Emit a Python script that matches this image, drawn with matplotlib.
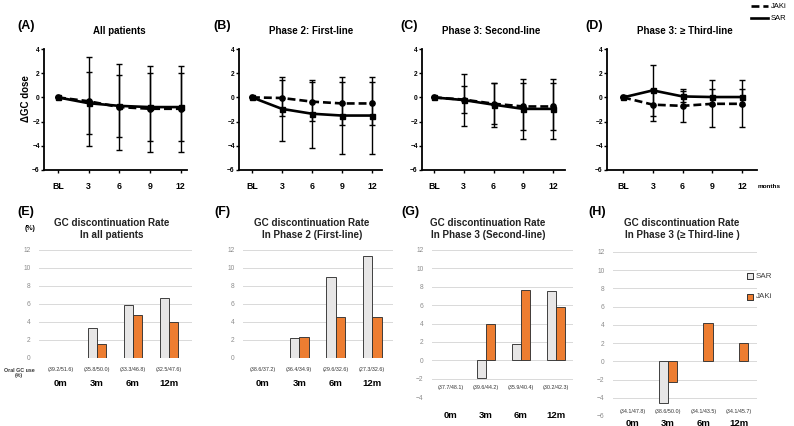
import numpy as np
import matplotlib
matplotlib.use("Agg")
import matplotlib.pyplot as plt
import matplotlib.transforms as mtransforms

plt.rcParams['font.family'] = ['Liberation Sans', 'DejaVu Sans']

W, H = 794, 426

# ---------------- data: top row (mean change in GC dose, +/- SD) ----------------
months = ["BL", "3", "6", "9", "12"]

A_sar_mean = [0, -0.48, -0.70, -0.80, -0.80]
A_sar_sd = [0, 2.55, 2.55, 2.80, 2.80]
A_jak_mean = [0, -0.32, -0.80, -0.94, -0.94]
A_jak_sd = [0, 3.70, 3.56, 3.56, 3.56]

B_sar_mean = [0, -0.95, -1.35, -1.50, -1.50]
B_sar_sd = [0, 2.65, 2.80, 3.15, 3.15]
B_jak_mean = [0, -0.05, -0.35, -0.50, -0.50]
B_jak_sd = [0, 1.50, 1.60, 1.80, 1.80]

C_sar_mean = [0, -0.22, -0.60, -0.95, -0.95]
C_sar_sd = [0, 2.15, 1.83, 2.48, 2.48]
C_jak_mean = [0, -0.18, -0.52, -0.75, -0.75]
C_jak_sd = [0, 1.15, 1.68, 1.96, 1.96]

D_sar_mean = [0, 0.58, 0.08, 0.03, 0.03]
D_sar_sd = [0, 2.10, 0.45, 0.65, 0.65]
D_jak_mean = [0, -0.60, -0.70, -0.53, -0.53]
D_jak_sd = [0, 1.32, 1.37, 1.95, 1.95]

top_titles = ["All patients", "Phase 2: First-line", "Phase 3: Second-line", "Phase 3: \u2265 Third-line"]
top_letters = ["(A)", "(B)", "(C)", "(D)"]

# ---------------- data: bottom row (GC discontinuation rate, %) ----------------
periods = ["0m", "3m", "6m", "12m"]

E_sar = [0, 3.35, 5.9, 6.7]
E_jak = [0, 1.6, 4.8, 4.0]
F_sar = [0, 2.2, 9.0, 11.3]
F_jak = [0, 2.3, 4.6, 4.6]
G_sar = [0, -1.9, 1.8, 7.5]
G_jak = [0, 3.9, 7.7, 5.75]
H_sar = [0, -4.6, 0, 0]
H_jak = [0, -2.3, 4.25, 2.0]

E_oral = ["(39.2/51.6)", "(35.8/50.0)", "(33.3/46.8)", "(32.5/47.6)"]
F_oral = ["(38.6/37.2)", "(36.4/34.9)", "(29.6/32.6)", "(27.3/32.6)"]
G_oral = ["(37.7/48.1)", "(39.6/44.2)", "(35.9/40.4)", "(30.2/42.3)"]
H_oral = ["(34.1/47.8)", "(38.6/50.0)", "(34.1/43.5)", "(34.1/45.7)"]

bottom_titles = ["GC discontinuation Rate\nIn all patients",
                 "GC discontinuation Rate\nIn Phase 2 (First-line)",
                 "GC discontinuation Rate\nIn Phase 3 (Second-line)",
                 "GC discontinuation Rate\nIn Phase 3 (\u2265 Third-line )"]
bottom_letters = ["(E)", "(F)", "(G)", "(H)"]

SAR_COLOR = "#E7E6E6"
JAK_COLOR = "#ED7D31"


def fx(px):
    return px / W


def fy(py):
    return 1 - py / H


def axbox(l, r, t, b):
    return [l / W, 1 - b / H, (r - l) / W, (b - t) / H]


fig = plt.figure(figsize=(W / 100, H / 100), dpi=100)

# ---------------- top row ----------------
top_boxes = [(44, 187), (239, 382), (422, 565), (607, 757)]
top_xlims = [(-0.455, 4.2), (-0.433, 4.33), (-0.40, 4.40), (-0.54, 4.5)]
top_title_x = [119, 311, 491, 685]
top_letter_x = [26, 222, 409, 594]
top_data = [(A_sar_mean, A_sar_sd, A_jak_mean, A_jak_sd),
            (B_sar_mean, B_sar_sd, B_jak_mean, B_jak_sd),
            (C_sar_mean, C_sar_sd, C_jak_mean, C_jak_sd),
            (D_sar_mean, D_sar_sd, D_jak_mean, D_jak_sd)]

for i, ((l, r), xl, data) in enumerate(zip(top_boxes, top_xlims, top_data)):
    ax = fig.add_axes(axbox(l, r, 49, 170))
    sm, ss, jm, js = data
    x = np.arange(len(months))
    ax.errorbar(x, jm, yerr=js, color="black", lw=1.9, ls=(0, (3.0, 1.5)),
                marker="o", ms=3.8, elinewidth=1.0, capsize=2.1, capthick=1.0, zorder=3)
    ax.errorbar(x, sm, yerr=ss, color="black", lw=1.9, ls="-",
                marker="s", ms=3.6, elinewidth=1.0, capsize=2.1, capthick=1.0, zorder=4)
    ax.set_xlim(*xl)
    ax.set_ylim(-6, 4)
    ax.set_yticks([-6, -4, -2, 0, 2, 4])
    ax.set_xticks(x)
    ax.set_xticklabels(months, fontsize=6.3, fontweight="bold")
    for t in ax.get_yticklabels():
        t.set_fontsize(4.8)
        t.set_fontweight("bold")
    ax.tick_params(axis="y", length=2.2, width=1.0, pad=0.8)
    ax.tick_params(axis="x", length=2.5, width=1.0, pad=6)
    for s in ["top", "right"]:
        ax.spines[s].set_visible(False)
    for s in ["left", "bottom"]:
        ax.spines[s].set_linewidth(1.3)
    ax.patch.set_alpha(0)
    fig.text(fx(top_title_x[i]), fy(31), top_titles[i], ha="center", va="center",
             fontsize=7, fontweight="bold")
    fig.text(fx(top_letter_x[i]), fy(26), top_letters[i], ha="center", va="center",
             fontsize=9, fontweight="bold")

fig.text(fx(26), fy(99), "\u0394GC dose", rotation=90, ha="center", va="center",
         fontsize=7, fontweight="bold")
fig.text(fx(758), fy(187), "months", ha="left", va="center", fontsize=4.6, fontweight="bold")

# top legend
lax = fig.add_axes(axbox(745, 794, 0, 28))
lax.set_xlim(0, 49)
lax.set_ylim(28, 0)
lax.axis("off")
lax.plot([6, 23], [6, 6], color="black", lw=1.9, ls=(0, (3.0, 1.5)))
lax.plot([6, 23], [18, 18], color="black", lw=1.9)
lax.text(26, 6, "JAKi", fontsize=5.5, va="center", ha="left")
lax.text(26, 18, "SAR", fontsize=5.5, va="center", ha="left")

# ---------------- bottom row ----------------
bot_boxes = [(39, 192, 250, 358), (243, 393, 250, 358), (432, 573, 250, 397), (613, 757, 252, 416)]
bot_xlims = [(-0.61, 3.64), (-0.54, 3.57), (-0.54, 3.49), (-0.55, 3.51)]
bot_ylims = [(0, 12), (0, 12), (-4, 12), (-6, 12)]
bot_data = [(E_sar, E_jak, E_oral), (F_sar, F_jak, F_oral),
            (G_sar, G_jak, G_oral), (H_sar, H_jak, H_oral)]
oral_y = [369, 369, 387, 411]
label_y = [384, 384, 416, 423]
bot_title_x = [112, 312, 488, 682]
bot_letter_x = [26, 222, 410, 597]
bw = 0.26

for i, (box, xl, yl, data) in enumerate(zip(bot_boxes, bot_xlims, bot_ylims, bot_data)):
    ax = fig.add_axes(axbox(*box))
    sar, jak, oral = data
    x = np.arange(len(periods))
    for xi, v in zip(x, sar):
        if v != 0:
            ax.bar(xi - bw / 2, v, width=bw, color=SAR_COLOR, edgecolor="#333333", lw=0.65, zorder=3)
    for xi, v in zip(x, jak):
        if v != 0:
            ax.bar(xi + bw / 2, v, width=bw, color=JAK_COLOR, edgecolor="#333333", lw=0.65, zorder=3)
    ax.set_xlim(*xl)
    ax.set_ylim(*yl)
    ax.set_yticks(np.arange(yl[0], yl[1] + 1, 2))
    ax.set_xticks([])
    for t in ax.get_yticklabels():
        t.set_fontsize(4.8)
        t.set_color("#8c8c8c")
    ax.tick_params(axis="y", length=0, pad=6)
    ax.grid(axis="y", color="#d9d9d9", lw=0.7, zorder=0)
    for s in ax.spines.values():
        s.set_visible(False)
    ax.patch.set_alpha(0)
    trans = mtransforms.blended_transform_factory(ax.transData, fig.transFigure)
    for xi, s in zip(x, oral):
        ax.text(xi, fy(oral_y[i]), s, transform=trans, ha="center", va="center",
                fontsize=3.9, color="#333333", clip_on=False)
    for xi, s in zip(x, periods):
        ax.text(xi, fy(label_y[i]), s, transform=trans, ha="center", va="center",
                fontsize=6.8, fontweight="bold", clip_on=False)
    fig.text(fx(bot_title_x[i]), fy(229), bottom_titles[i], ha="center", va="center",
             fontsize=7.1, fontweight="bold", linespacing=1.25, color="#222222")
    fig.text(fx(bot_letter_x[i]), fy(212), bottom_letters[i], ha="center", va="center",
             fontsize=9, fontweight="bold")

fig.text(fx(30), fy(229), "(%)", ha="center", va="center", fontsize=5, fontweight="bold")
fig.text(fx(19), fy(373), "Oral GC use\n(%)", ha="center", va="center", fontsize=3.8,
         fontweight="bold", color="#333333", linespacing=1.2)

# bottom legend
bl = fig.add_axes(axbox(745, 794, 265, 308))
bl.set_xlim(0, 49)
bl.set_ylim(43, 0)
bl.axis("off")
bl.scatter([5], [11], marker="s", s=24, color=SAR_COLOR, edgecolor="#333333", lw=0.7)
bl.scatter([5], [32], marker="s", s=24, color=JAK_COLOR, edgecolor="#333333", lw=0.7)
bl.text(11, 11, "SAR", fontsize=5.8, va="center", ha="left", color="#404040")
bl.text(11, 32, "JAKi", fontsize=5.8, va="center", ha="left", color="#404040")

fig.savefig("out.png", dpi=100)
